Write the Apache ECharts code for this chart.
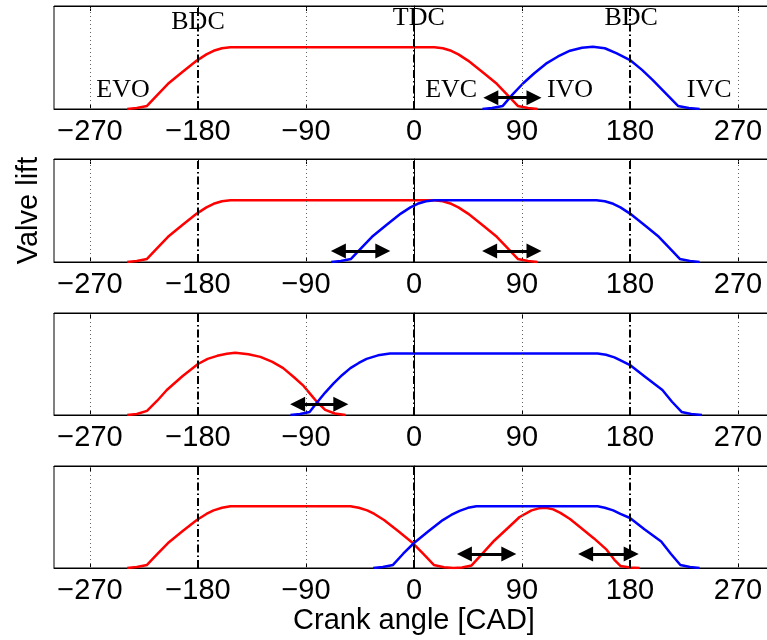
<!DOCTYPE html>
<html><head><meta charset="utf-8">
<script src="https://cdn.jsdelivr.net/npm/echarts@6/dist/echarts.min.js"></script>
<style>html,body{margin:0;padding:0;background:#fff}#c{width:767px;height:640px}</style>
</head><body><div id="c"></div>
<script>
// ---- data ----
const tickVals = [-270, -180, -90, 0, 90, 180, 270];
const tickLabels = ['\u2212270', '\u2212180', '\u221290', '0', '90', '180', '270'];
const deadCenters = [-180, 0, 180];

const exhaust1 = [[-239,0],[-231,0.01],[-222.5,0.03],[-214,0.135],[-205,0.245],[-193,0.36],[-181,0.47],[-173,0.53],[-167,0.565],[-160,0.59],[-153,0.6],[17,0.6],[24,0.59],[31,0.565],[37,0.53],[45,0.47],[57,0.36],[69,0.245],[78,0.135],[86.5,0.03],[95,0.01],[103,0]];
const intake1 = [[57,0],[65,0.01],[74,0.03],[82,0.14],[91,0.25],[100,0.345],[110,0.44],[120,0.51],[130,0.566],[140,0.595],[149,0.605],[159,0.59],[169,0.54],[180,0.475],[190,0.38],[199,0.28],[210,0.15],[220,0.03],[229,0.01],[238,0]];

const exhaust2 = [[-239,0],[-231,0.01],[-222.5,0.03],[-214,0.135],[-205,0.245],[-193,0.36],[-181,0.47],[-173,0.53],[-167,0.565],[-160,0.59],[-153,0.6],[17,0.6],[24,0.59],[31,0.565],[37,0.53],[45,0.47],[57,0.36],[69,0.245],[78,0.135],[86.5,0.03],[95,0.01],[103,0]];
const intake2 = [[-69,0],[-61,0.01],[-52.5,0.03],[-44,0.135],[-35,0.245],[-23,0.36],[-11,0.47],[-3,0.53],[3,0.565],[10,0.59],[17,0.6],[152,0.6],[159,0.59],[166,0.565],[172,0.53],[180,0.47],[192,0.36],[204,0.245],[213,0.135],[221.5,0.03],[230,0.01],[238,0]];

const exhaust3 = [[-239,0],[-231,0.01],[-222.5,0.04],[-214,0.14],[-206,0.245],[-193,0.38],[-180,0.5],[-172,0.55],[-164,0.58],[-156,0.6],[-149,0.61],[-138,0.595],[-128,0.57],[-118,0.52],[-109,0.46],[-100,0.37],[-92,0.285],[-86,0.2],[-81,0.13],[-74,0.05],[-66,0.015],[-57,0]];
const intake3 = [[-103,0],[-95,0.01],[-87,0.03],[-81,0.12],[-74,0.22],[-67,0.31],[-60,0.39],[-53,0.46],[-46,0.51],[-39.5,0.55],[-30,0.585],[-20,0.603],[153,0.603],[160,0.59],[167,0.565],[173,0.53],[180,0.49],[192,0.38],[207,0.245],[215,0.13],[223,0.03],[231,0.01],[240,0]];

const exhaust4 = [[-239,0],[-231,0.01],[-222.5,0.03],[-214,0.135],[-205,0.245],[-193,0.36],[-181,0.47],[-173,0.53],[-167,0.565],[-160,0.59],[-153,0.605],[-53,0.605],[-46,0.59],[-39,0.565],[-33,0.53],[-25,0.47],[-13,0.36],[-1,0.245],[8,0.135],[16.5,0.03],[25,0.008],[33,0],[40,0.005],[48,0.025],[57,0.14],[67,0.27],[78,0.39],[88,0.5],[98,0.565],[104,0.585],[110,0.59],[116,0.575],[122,0.54],[130,0.48],[138,0.405],[150,0.29],[160.5,0.18],[167,0.08],[172,0.02],[180,0.005],[188,0]];
const intake4 = [[-34,0],[-26,0.01],[-17.5,0.03],[-9,0.14],[0,0.245],[12,0.36],[24,0.47],[31,0.52],[38,0.56],[45,0.59],[52,0.605],[153,0.605],[159,0.59],[166,0.565],[172,0.53],[180,0.49],[192,0.38],[206,0.26],[214,0.14],[222,0.03],[230,0.01],[238,0]];

// double-headed arrows: [from, to] (arrow-head centres, CAD) and their lift level
const arrows1 = [[64, 100]];
const arrows2 = [[-63, -26], [63, 100]];
const arrows3 = [[-97, -61]];
const arrows4 = [[42, 79], [143, 181]];
const arrowLift = [0.11, 0.107, 0.105, 0.137];

// text annotations in the first panel
const annotText = ['BDC', 'TDC', 'BDC', 'EVO', 'EVC', 'IVO', 'IVC'];
const annotX = [-180, 4, 181, -242.5, 31, 130, 246];
const annotY = [0.845, 0.88, 0.88, 0.18, 0.18, 0.18, 0.18];

// ---- layout ----
const tops = [6, 159, 313, 466];
const heights = [103, 103, 102, 102];
const SANS = 'Liberation Sans, Arial, Helvetica, sans-serif';
const SERIF = 'Liberation Serif, Times New Roman, serif';

const panels = [
  {ex: exhaust1, in: intake1, arrows: arrows1},
  {ex: exhaust2, in: intake2, arrows: arrows2},
  {ex: exhaust3, in: intake3, arrows: arrows3},
  {ex: exhaust4, in: intake4, arrows: arrows4}
];

const grids = [], xAxes = [], yAxes = [], series = [];
panels.forEach((p, i) => {
  grids.push({left: 54, width: 720, top: tops[i], height: heights[i], show: true,
    containLabel: false, outerBoundsMode: 'none',
    borderColor: '#000', borderWidth: 1, backgroundColor: 'transparent'});
  xAxes.push({
    type: 'value', gridIndex: i, min: -300, max: 300, position: 'bottom',
    axisLine: {show: true, onZero: false, lineStyle: {color: '#000', width: 1}},
    axisTick: {show: true, inside: true, length: 5, customValues: tickVals, lineStyle: {color: '#000', width: 1}},
    axisLabel: {show: true, customValues: tickVals, margin: 8, hideOverlap: false,
      formatter: v => tickLabels[tickVals.indexOf(v)] || '',
      fontSize: 29, color: '#000', fontFamily: SANS},
    splitLine: {show: false},
    name: i === 3 ? 'Crank angle [CAD]' : '', nameLocation: 'middle', nameGap: 38,
    nameTextStyle: {fontSize: 29, color: '#000', fontFamily: SANS}
  });
  xAxes.push({
    type: 'value', gridIndex: i, min: -300, max: 300, position: 'top',
    axisLine: {show: true, onZero: false, lineStyle: {color: '#000', width: 1}},
    axisTick: {show: true, inside: true, length: 5, customValues: tickVals, lineStyle: {color: '#000', width: 1}},
    axisLabel: {show: false}, splitLine: {show: false}
  });
  yAxes.push({
    type: 'value', gridIndex: i, min: 0, max: 1,
    axisLine: {show: true, lineStyle: {color: '#000', width: 1}},
    axisTick: {show: false}, axisLabel: {show: false}, splitLine: {show: false},
    name: i === 1 ? 'Valve lift' : '', nameLocation: 'middle', nameGap: 11, nameRotate: 90,
    nameTextStyle: {fontSize: 29, color: '#000', fontFamily: SANS}
  });

  const gridLineData = tickVals.filter(v => deadCenters.indexOf(v) < 0).map(v => ({
    xAxis: v, lineStyle: {type: [1, 3], color: '#666', width: 1}
  })).concat(deadCenters.map(v => ({
    xAxis: v, lineStyle: {type: [8, 3, 1.5, 3], color: '#000', width: 2}
  })));

  series.push({
    type: 'line', xAxisIndex: 2 * i, yAxisIndex: i, data: p.ex, showSymbol: false, smooth: false,
    lineStyle: {color: '#ff0000', width: 2.5, join: 'round'}, itemStyle: {color: '#ff0000'}, animation: false, silent: true,
    markLine: {silent: true, symbol: 'none', label: {show: false}, animation: false, data: gridLineData}
  });
  series.push({
    type: 'line', xAxisIndex: 2 * i, yAxisIndex: i, data: p.in, showSymbol: false, smooth: false,
    lineStyle: {color: '#0000ff', width: 2.5, join: 'round'}, itemStyle: {color: '#0000ff'}, animation: false, silent: true,
    markLine: {silent: true, symbol: ['triangle', 'triangle'], symbolSize: 15, label: {show: false}, animation: false,
      lineStyle: {color: '#000', width: 3, type: 'solid'}, itemStyle: {color: '#000'},
      data: p.arrows.map(a => [{coord: [a[0], arrowLift[i]]}, {coord: [a[1], arrowLift[i]]}])}
  });
});

series.push({
  type: 'scatter', xAxisIndex: 0, yAxisIndex: 0, symbolSize: 0, silent: true, animation: false,
  itemStyle: {color: '#000', opacity: 1},
  data: annotX.map((x, k) => ({value: [x, annotY[k]], label: {formatter: annotText[k]}})),
  label: {show: true, position: 'inside', align: 'center', verticalAlign: 'middle', opacity: 1,
    fontSize: 26, color: '#000', textBorderWidth: 0, fontFamily: SERIF}
});

const chart = echarts.init(document.getElementById('c'), null, {renderer: 'canvas'});
chart.setOption({animation: false, backgroundColor: '#fff', grid: grids, xAxis: xAxes, yAxis: yAxes, series: series});
</script></body></html>
